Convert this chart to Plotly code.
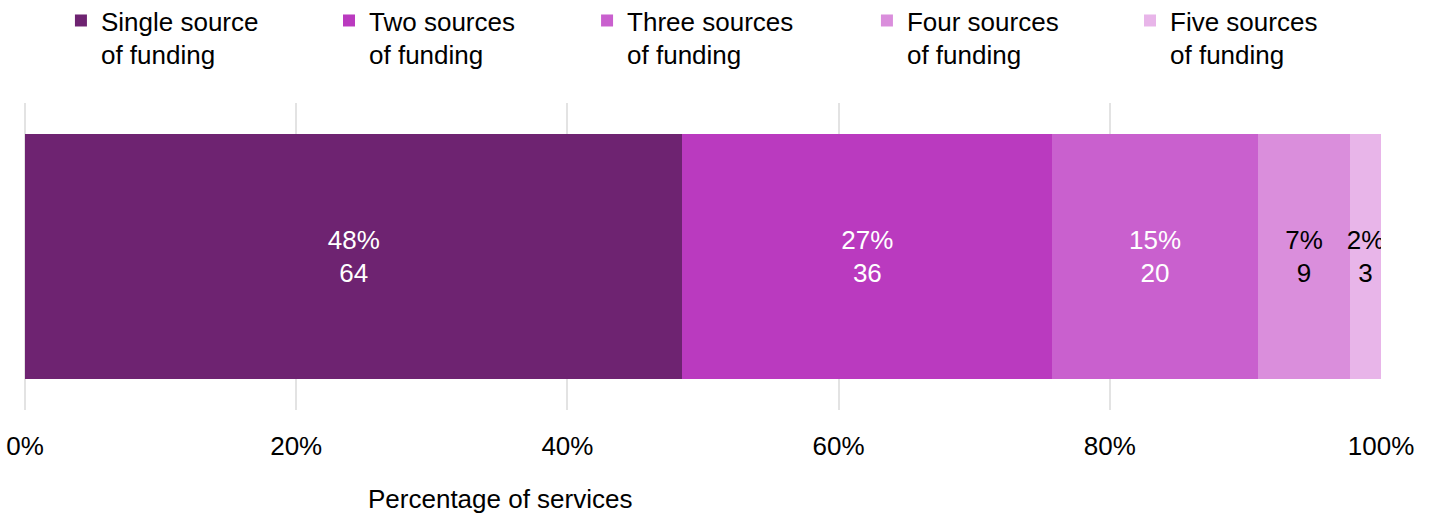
import plotly.graph_objects as go

# Number of services by how many funding sources they draw on
categories = ["Single source<br>of funding", "Two sources<br>of funding",
              "Three sources<br>of funding", "Four sources<br>of funding",
              "Five sources<br>of funding"]
counts = [64, 36, 20, 9, 3]
pct_labels = ["48%", "27%", "15%", "7%", "2%"]
tick_vals = [0, 20, 40, 60, 80, 100]
tick_text = ["0%", "20%", "40%", "60%", "80%", "100%"]

colors = ["#6E2371", "#BA3ABF", "#C960CE", "#DA8EDC", "#E8B5E9"]
label_colors = ["white", "white", "white", "black", "black"]
legend_x = [0.0265, 0.2242, 0.4145, 0.6209, 0.8149]

FONT = "Liberation Sans, Arial, sans-serif"
SIZE = 26

fig = go.Figure()
for i, (name, n) in enumerate(zip(categories, counts)):
    fig.add_trace(go.Bar(
        x=[n], y=["services"], orientation="h", name=name,
        marker=dict(color=colors[i], line=dict(width=0)),
        text=[f"{pct_labels[i]}<br>{n}"], textposition="inside",
        insidetextanchor="middle",
        textfont=dict(color=label_colors[i], size=SIZE, family=FONT),
        legend="legend" if i == 0 else f"legend{i + 1}",
        hoverinfo="skip",
    ))

legend_common = dict(orientation="h", yanchor="top", y=1.345, xanchor="left",
                     valign="top",
                     font=dict(size=SIZE, family=FONT, color="black"),
                     bgcolor="rgba(0,0,0,0)", itemwidth=30, tracegroupgap=0)
layout_legends = {}
for i, lx in enumerate(legend_x):
    key = "legend" if i == 0 else f"legend{i + 1}"
    layout_legends[key] = dict(legend_common, x=lx)

fig.update_layout(
    barmode="stack", barnorm="percent", bargap=0.2,
    width=1431, height=516,
    margin=dict(l=25, r=50, t=103, b=106, autoexpand=False),
    plot_bgcolor="white", paper_bgcolor="white",
    font=dict(family=FONT, size=SIZE, color="black"),
    showlegend=True,
    uniformtext=dict(mode="show", minsize=SIZE),
    xaxis=dict(range=[0, 100], tickvals=tick_vals, ticktext=tick_text,
               showgrid=True, gridcolor="#E3E3E3", gridwidth=2,
               zeroline=True, zerolinecolor="#E3E3E3", zerolinewidth=2,
               showline=False, ticks="", automargin=False,
               ticklabelstandoff=18, tickfont=dict(size=SIZE, family=FONT)),
    yaxis=dict(showticklabels=False, showgrid=False, zeroline=False,
               automargin=False),
    annotations=[dict(text="Percentage of services", xref="paper", yref="paper",
                      x=(500 - 25) / 1356, y=(410 - 499) / 307,
                      xanchor="center", yanchor="middle",
                      showarrow=False, font=dict(size=SIZE, family=FONT))],
    **layout_legends,
)

fig.write_html("out.html")
